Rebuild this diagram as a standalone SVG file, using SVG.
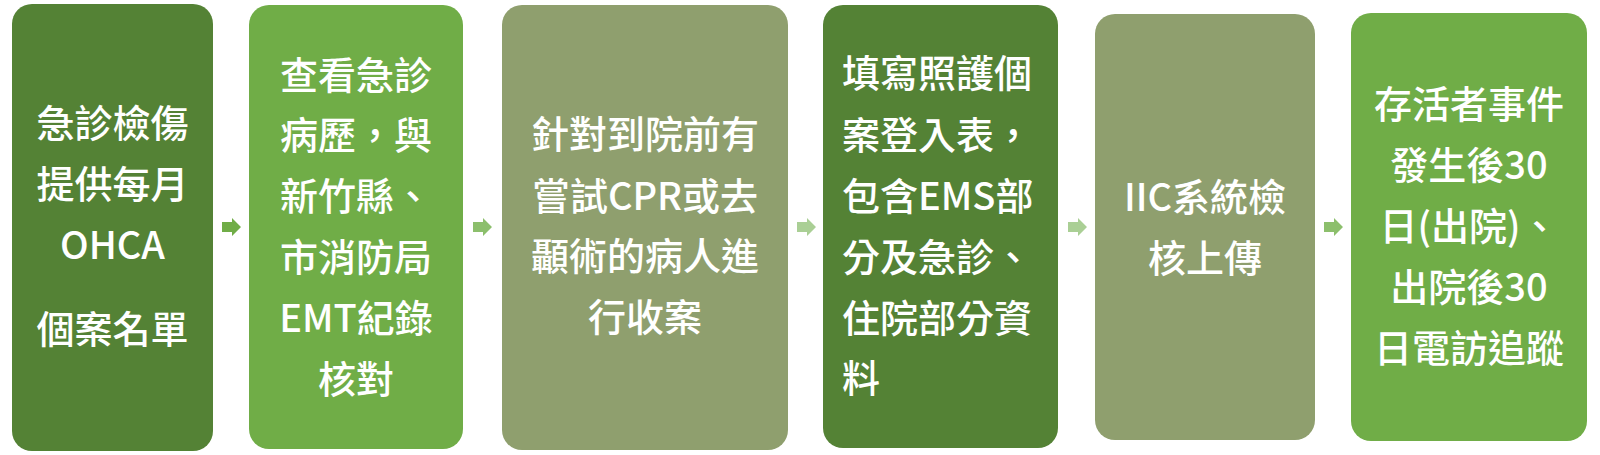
<svg xmlns="http://www.w3.org/2000/svg" width="1600" height="455" viewBox="0 0 1600 455">
<style>
.box{stroke:none}
.dk{fill:#548235}
.md{fill:#70AD47}
.ol{fill:#8F9F6E}
text{font-family:"Noto Sans CJK TC","Noto Sans CJK SC",sans-serif;font-size:38px;font-weight:500;fill:#FFFFFF}
.c{text-anchor:middle}
.l{text-anchor:start}
</style>
<rect width="1600" height="455" fill="#FFFFFF"/>
<g id="connectors">
<path d="M222,222 H232 V218 L241,227 L232,236 V232 H222 Z" fill="#70AD47"/>
<path d="M473,222 H483 V218 L492,227 L483,236 V232 H473 Z" fill="#8CBF6C"/>
<path d="M797,222 H807 V218 L816,227 L807,236 V232 H797 Z" fill="#AACF95"/>
<path d="M1068,222 H1078 V218 L1087,227 L1078,236 V232 H1068 Z" fill="#AACF95"/>
<path d="M1324,222 H1334 V218 L1343,227 L1334,236 V232 H1324 Z" fill="#8CBF6C"/>
</g>
<g id="node1">
<rect class="box dk" x="12" y="4" width="201" height="447" rx="20"/>
<text class="c" x="112.5" y="137">急診檢傷</text>
<text class="c" x="112.5" y="198">提供每月</text>
<text class="c" x="112.5" y="259">OHCA</text>
<text class="c" x="112.5" y="343">個案名單</text>
</g>
<g id="node2">
<rect class="box md" x="249" y="5" width="214" height="444" rx="20"/>
<text class="c" x="356" y="89">查看急診</text>
<text class="c" x="356" y="149">病歷，與</text>
<text class="c" x="356" y="210">新竹縣、</text>
<text class="c" x="356" y="271">市消防局</text>
<text class="c" x="356" y="332">EMT紀錄</text>
<text class="c" x="356" y="393">核對</text>
</g>
<g id="node3">
<rect class="box ol" x="502" y="5" width="286" height="445" rx="20"/>
<text class="c" x="645" y="148">針對到院前有</text>
<text class="c" x="645" y="210">嘗試CPR或去</text>
<text class="c" x="645" y="270">顳術的病人進</text>
<text class="c" x="645" y="331">行收案</text>
</g>
<g id="node4">
<rect class="box dk" x="823" y="5" width="235" height="443" rx="20"/>
<text class="l" x="842" y="87">填寫照護個</text>
<text class="l" x="842" y="149">案登入表，</text>
<text class="l" x="842" y="210">包含EMS部</text>
<text class="l" x="842" y="271">分及急診、</text>
<text class="l" x="842" y="332">住院部分資</text>
<text class="l" x="842" y="392">料</text>
</g>
<g id="node5">
<rect class="box ol" x="1095" y="14" width="220" height="426" rx="20"/>
<text class="c" x="1205" y="211">IIC系統檢</text>
<text class="c" x="1205" y="272">核上傳</text>
</g>
<g id="node6">
<rect class="box md" x="1351" y="13" width="236" height="428" rx="20"/>
<text class="c" x="1469" y="118">存活者事件</text>
<text class="c" x="1469" y="179">發生後30</text>
<text class="c" x="1469" y="240">日(出院)、</text>
<text class="c" x="1469" y="301">出院後30</text>
<text class="c" x="1469" y="362">日電訪追蹤</text>
</g>
</svg>
